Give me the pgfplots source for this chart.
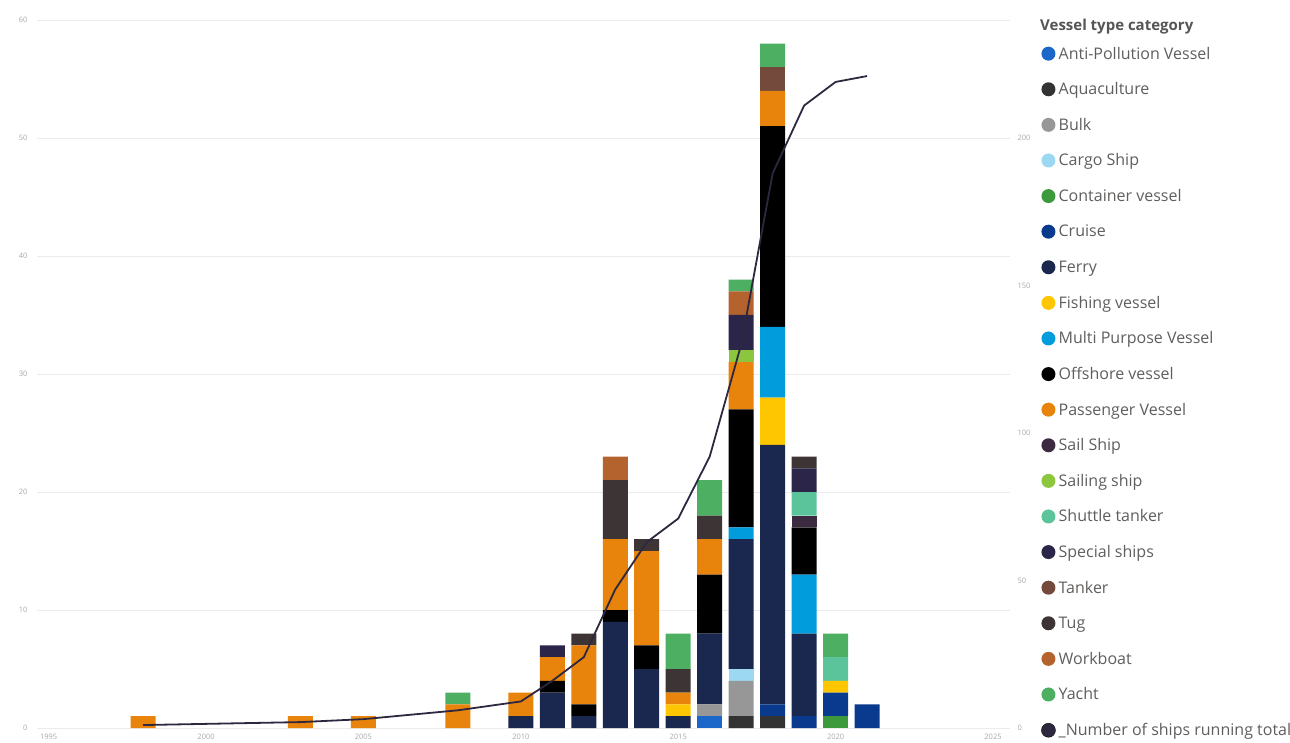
\documentclass[border=0pt]{standalone}
\usepackage{pgfplots}
\pgfplotsset{compat=1.18}
\usepackage{pgfplotstable}
\usepackage{fontspec}
\setmainfont{Open Sans}
\definecolor{cAP}{HTML}{1B66C9}
\definecolor{cAq}{HTML}{333333}
\definecolor{cBu}{HTML}{979797}
\definecolor{cCa}{HTML}{9CD8F2}
\definecolor{cCo}{HTML}{3D9A3C}
\definecolor{cCr}{HTML}{093A8E}
\definecolor{cFe}{HTML}{1A2850}
\definecolor{cFi}{HTML}{FDC600}
\definecolor{cMP}{HTML}{009CDB}
\definecolor{cOf}{HTML}{000000}
\definecolor{cPa}{HTML}{E8830B}
\definecolor{cSS}{HTML}{3C2B40}
\definecolor{cSa}{HTML}{8CC63E}
\definecolor{cSh}{HTML}{5BC49A}
\definecolor{cSp}{HTML}{2B2549}
\definecolor{cTa}{HTML}{734A3C}
\definecolor{cTu}{HTML}{3D3435}
\definecolor{cWo}{HTML}{B4622E}
\definecolor{cYa}{HTML}{4CAF62}
\definecolor{linec}{HTML}{2D2840}
\definecolor{gridc}{HTML}{EBEBEB}
\definecolor{tickc}{HTML}{A8A8A8}
\definecolor{legc}{HTML}{605E5C}
\definecolor{titlec}{HTML}{555555}
\pgfplotstableread{
year AP Aq Bu Ca Co Cr Fe Fi MP Of Pa SS Sa Sh Sp Ta Tu Wo Ya
1998 0 0 0 0 0 0 0 0 0 0 1 0 0 0 0 0 0 0 0
2003 0 0 0 0 0 0 0 0 0 0 1 0 0 0 0 0 0 0 0
2005 0 0 0 0 0 0 0 0 0 0 1 0 0 0 0 0 0 0 0
2008 0 0 0 0 0 0 0 0 0 0 2 0 0 0 0 0 0 0 1
2010 0 0 0 0 0 0 1 0 0 0 2 0 0 0 0 0 0 0 0
2011 0 0 0 0 0 0 3 0 0 1 2 0 0 0 1 0 0 0 0
2012 0 0 0 0 0 0 1 0 0 1 5 0 0 0 0 0 1 0 0
2013 0 0 0 0 0 0 9 0 0 1 6 0 0 0 0 0 5 2 0
2014 0 0 0 0 0 0 5 0 0 2 8 0 0 0 0 0 1 0 0
2015 0 0 0 0 0 0 1 1 0 0 1 0 0 0 0 0 2 0 3
2016 1 0 1 0 0 0 6 0 0 5 3 0 0 0 0 0 2 0 3
2017 0 1 3 1 0 0 11 0 1 10 4 0 1 0 3 0 0 2 1
2018 0 1 0 0 0 1 22 4 6 17 3 0 0 0 0 2 0 0 2
2019 0 0 0 0 0 1 7 0 5 4 0 1 0 2 2 0 1 0 0
2020 0 0 0 0 1 2 0 1 0 0 0 0 0 2 0 0 0 0 2
2021 0 0 0 0 0 2 0 0 0 0 0 0 0 0 0 0 0 0 0
}\datatable
\pgfplotstableread{
year total
1998 1
2003 2
2005 3
2008 6
2010 9
2011 16
2012 24
2013 47
2014 63
2015 71
2016 92
2017 130
2018 188
2019 211
2020 219
2021 221
}\totaltable
\begin{document}
\begin{tikzpicture}[x=1pt,y=1pt]
\path[use as bounding box] (0,0) rectangle (1290,742);
\begin{axis}[
  at={(37pt,14pt)}, anchor=south west, scale only axis,
  width=973pt, height=708pt,
  xmin=1994.63, xmax=2025.54, ymin=0, ymax=60,
  ybar stacked, bar width=25pt,
  axis line style={draw=none}, major tick style={draw=none},
  ytick={0,10,...,60}, xtick={1995,2000,...,2025},
  ymajorgrids, grid style={line width=0.6pt, color=gridc},
  /pgf/number format/assume math mode=true,
  /pgf/number format/1000 sep={},
  tick label style={font=\fontsize{7.5}{9}\selectfont, text=tickc},
  xticklabel style={yshift=-3pt},
  yticklabel style={xshift=-6pt},
  clip=false,
  legend image code/.code={\fill[#1] (7pt,0pt) circle (7pt);},
  legend cell align=left,
  legend style={at={(axis description cs:1.0319,0.9626)}, anchor=north west,
    draw=none, fill=none, inner sep=0pt, row sep=21.6pt, column sep=3pt,
    font=\fontsize{16}{18}\selectfont, text=legc,
    nodes={inner sep=0pt}},
]
\addplot[fill=cAP, draw=none] table[x=year,y=AP]{\datatable}; \addlegendentry{Anti-Pollution Vessel}
\addplot[fill=cAq, draw=none] table[x=year,y=Aq]{\datatable}; \addlegendentry{Aquaculture}
\addplot[fill=cBu, draw=none] table[x=year,y=Bu]{\datatable}; \addlegendentry{Bulk}
\addplot[fill=cCa, draw=none] table[x=year,y=Ca]{\datatable}; \addlegendentry{Cargo Ship}
\addplot[fill=cCo, draw=none] table[x=year,y=Co]{\datatable}; \addlegendentry{Container vessel}
\addplot[fill=cCr, draw=none] table[x=year,y=Cr]{\datatable}; \addlegendentry{Cruise}
\addplot[fill=cFe, draw=none] table[x=year,y=Fe]{\datatable}; \addlegendentry{Ferry}
\addplot[fill=cFi, draw=none] table[x=year,y=Fi]{\datatable}; \addlegendentry{Fishing vessel}
\addplot[fill=cMP, draw=none] table[x=year,y=MP]{\datatable}; \addlegendentry{Multi Purpose Vessel}
\addplot[fill=cOf, draw=none] table[x=year,y=Of]{\datatable}; \addlegendentry{Offshore vessel}
\addplot[fill=cPa, draw=none] table[x=year,y=Pa]{\datatable}; \addlegendentry{Passenger Vessel}
\addplot[fill=cSS, draw=none] table[x=year,y=SS]{\datatable}; \addlegendentry{Sail Ship}
\addplot[fill=cSa, draw=none] table[x=year,y=Sa]{\datatable}; \addlegendentry{Sailing ship}
\addplot[fill=cSh, draw=none] table[x=year,y=Sh]{\datatable}; \addlegendentry{Shuttle tanker}
\addplot[fill=cSp, draw=none] table[x=year,y=Sp]{\datatable}; \addlegendentry{Special ships}
\addplot[fill=cTa, draw=none] table[x=year,y=Ta]{\datatable}; \addlegendentry{Tanker}
\addplot[fill=cTu, draw=none] table[x=year,y=Tu]{\datatable}; \addlegendentry{Tug}
\addplot[fill=cWo, draw=none] table[x=year,y=Wo]{\datatable}; \addlegendentry{Workboat}
\addplot[fill=cYa, draw=none] table[x=year,y=Ya]{\datatable}; \addlegendentry{Yacht}
\addlegendimage{fill=linec}\addlegendentry{\_Number of ships running total}
\node[anchor=west, inner sep=0pt, font=\bfseries\fontsize{15}{18}\selectfont, text=titlec]
  at (axis description cs:1.0308,0.990) {Vessel type category};
\end{axis}
\begin{axis}[
  at={(37pt,14pt)}, anchor=south west, scale only axis,
  width=973pt, height=708pt,
  xmin=1994.63, xmax=2025.54, ymin=0, ymax=240,
  axis y line*=right, hide x axis,
  axis line style={draw=none}, major tick style={draw=none},
  ytick={0,50,...,200},
  /pgf/number format/assume math mode=true,
  tick label style={font=\fontsize{7.5}{9}\selectfont, text=tickc},
  yticklabel style={xshift=4pt},
]
\addplot[color=linec, line width=1.8pt, mark=none] table[x=year,y=total]{\totaltable};
\end{axis}
\end{tikzpicture}
\end{document}
